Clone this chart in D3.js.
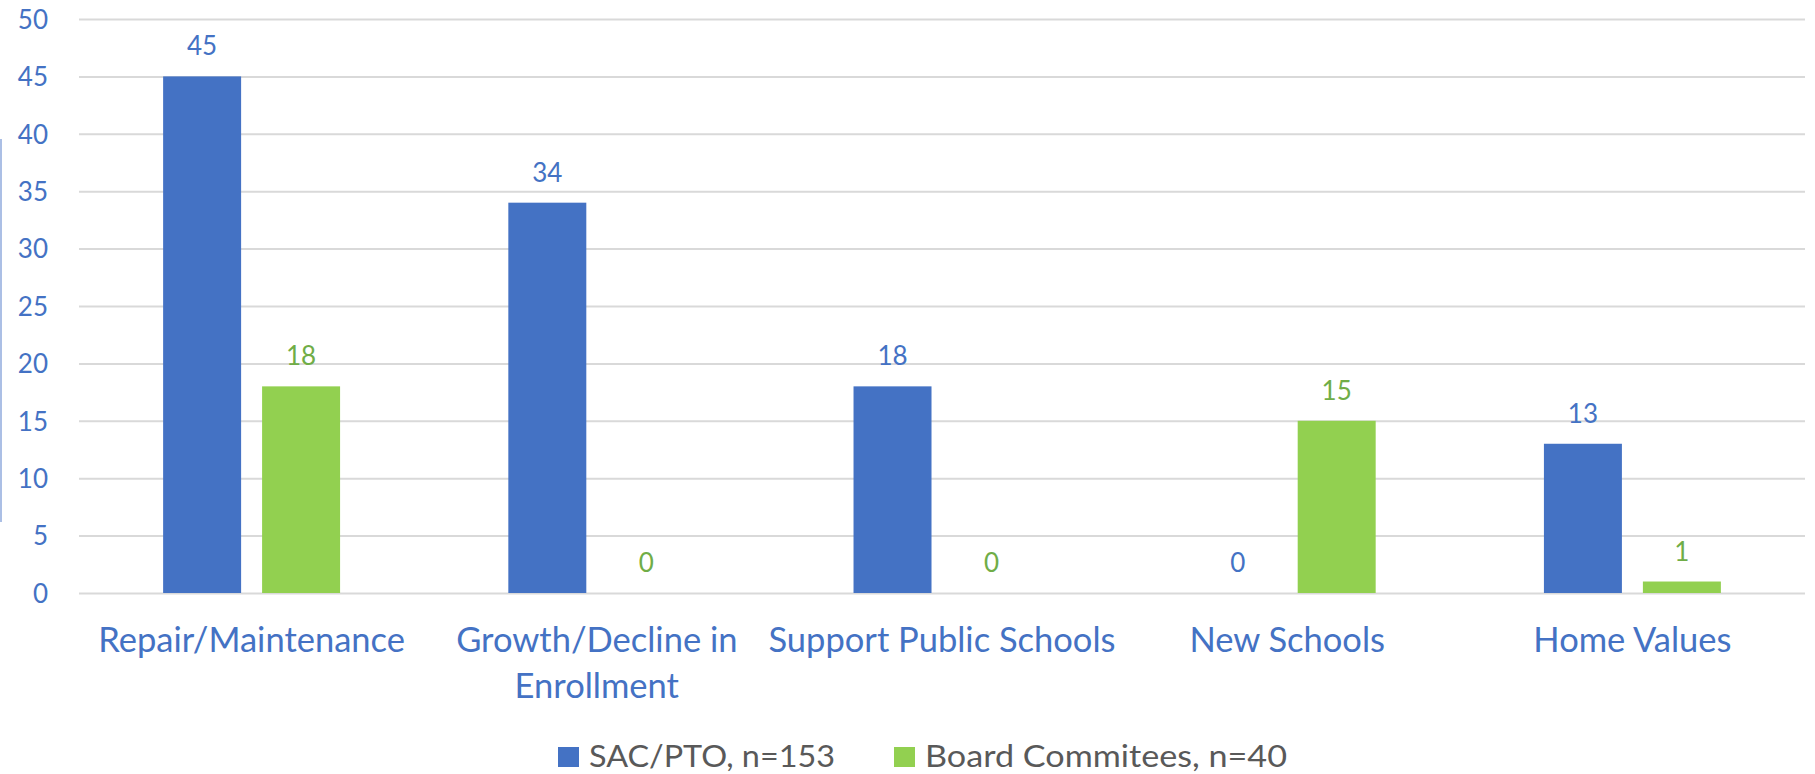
<!DOCTYPE html>
<html><head><meta charset="utf-8">
<script src="https://cdn.jsdelivr.net/npm/d3@7"></script>
<style>body{margin:0;background:#fff}</style>
</head><body>
<svg id="c" width="1815" height="774"></svg>
<script>
const categories = [["Repair/Maintenance"],["Growth/Decline in","Enrollment"],["Support Public Schools"],["New Schools"],["Home Values"]];
const seriesNames = ["SAC/PTO, n=153","Board Commitees, n=40"];
const sacValues = [45,34,18,0,13];
const boardValues = [18,0,0,15,1];
const yTicks = [0,5,10,15,20,25,30,35,40,45,50];

const colors = ["#4472C4","#92D050"];
const labelColors = ["#4472C4","#70AD47"];
const font = "Lato, 'Open Sans', sans-serif";

const svg = d3.select("#c");
const m = {left:79, right:1805, top:19, bottom:593};
const x = d3.scaleBand().domain(d3.range(categories.length)).range([m.left,m.right]).paddingInner(0).paddingOuter(0);
const y = d3.scaleLinear().domain([0,50]).range([m.bottom,m.top]);
const inner = d3.scaleBand().domain([0,1]).range([0,x.bandwidth()]).paddingInner(0.212).paddingOuter(0.85);

// left artifact line
svg.append("line").attr("x1",1).attr("x2",1).attr("y1",139).attr("y2",522).attr("stroke","#8FAADC").attr("stroke-width",1.5);

// gridlines
const yAxis = d3.axisLeft(y).tickValues(yTicks).tickSize(-(m.right-m.left)).tickPadding(31);
const ga = svg.append("g").attr("transform",`translate(${m.left},0)`).call(yAxis);
ga.select(".domain").remove();
ga.selectAll(".tick line").attr("stroke","#D9D9D9").attr("stroke-width",2);
ga.selectAll(".tick text").attr("fill","#4472C4").attr("font-family",font).attr("font-size",26).attr("dy","0.36em");

const series = [sacValues, boardValues];
series.forEach((vals,si)=>{
  const g = svg.append("g");
  g.selectAll("rect").data(vals).join("rect")
    .attr("x",(d,i)=>x(i)+inner(si))
    .attr("width",inner.bandwidth())
    .attr("y",d=>y(d))
    .attr("height",d=>y(0)-y(d))
    .attr("fill",colors[si]);
  g.selectAll("text").data(vals).join("text")
    .attr("x",(d,i)=>x(i)+inner(si)+inner.bandwidth()/2)
    .attr("y",d=>y(d)-21)
    .attr("text-anchor","middle")
    .attr("fill",labelColors[si])
    .attr("font-family",font).attr("font-size",26)
    .text(d=>d);
});

// x labels
const xl = svg.append("g");
categories.forEach((lines,i)=>{
  const t = xl.append("text").attr("x",x(i)+x.bandwidth()/2).attr("y",652)
    .attr("text-anchor","middle").attr("fill","#4472C4").attr("font-family",font).attr("font-size",34.5);
  lines.forEach((l,j)=>t.append("tspan").attr("x",x(i)+x.bandwidth()/2).attr("dy",j?46:0).text(l));
});

// legend
const legX = [558,894];
const legW = [246,362];
seriesNames.forEach((n,i)=>{
  svg.append("rect").attr("x",legX[i]).attr("y",747).attr("width",21).attr("height",20).attr("fill",colors[i]);
  svg.append("text").attr("x",legX[i]+31).attr("y",767).attr("fill","#595959")
    .attr("font-family",font).attr("font-size",30)
    .attr("textLength",legW[i]).attr("lengthAdjust","spacingAndGlyphs").text(n);
});
</script>
</body></html>
